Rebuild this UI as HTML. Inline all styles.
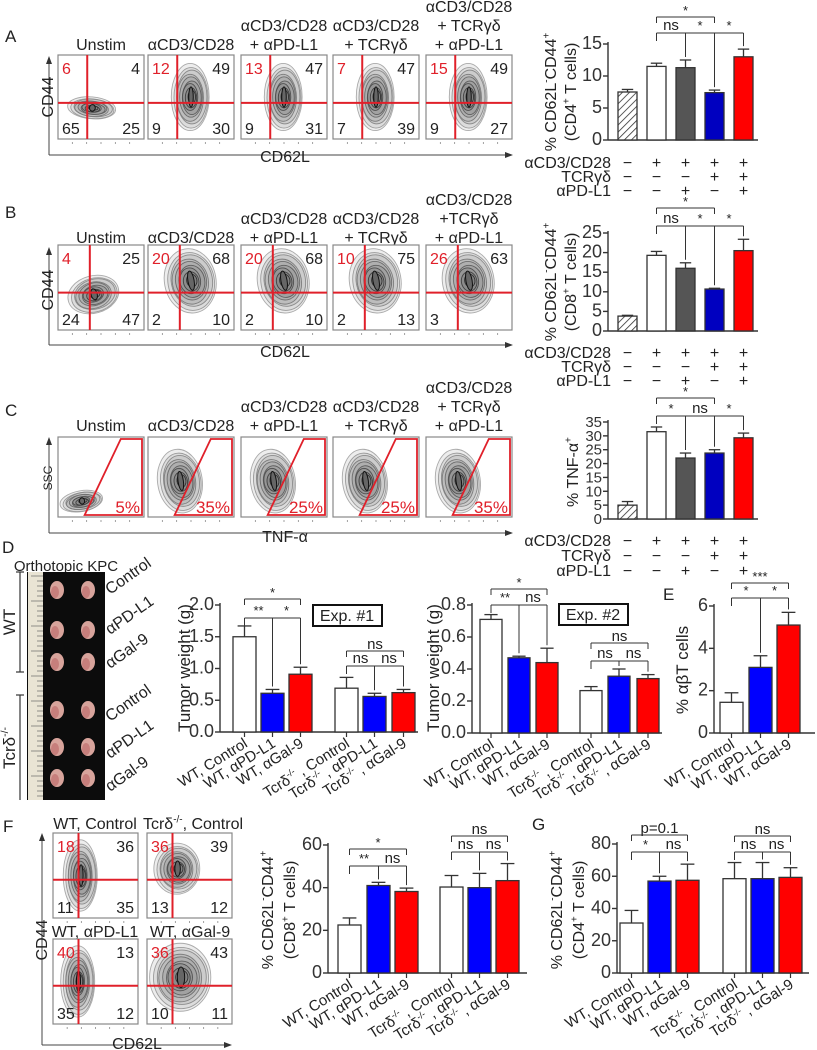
<!DOCTYPE html>
<html><head><meta charset="utf-8">
<style>
html,body{margin:0;padding:0;background:#fff;}
svg{display:block;font-family:"Liberation Sans",Arial,sans-serif;}
</style></head>
<body>
<svg id="fig" width="817" height="1050" viewBox="0 0 817 1050" xmlns="http://www.w3.org/2000/svg">
<defs>
<pattern id="hatch" patternUnits="userSpaceOnUse" width="5" height="5" patternTransform="rotate(45)">
<rect width="5" height="5" fill="#fff"/><line x1="0" y1="0" x2="0" y2="5" stroke="#333" stroke-width="1.6"/>
</pattern>
</defs>
</svg>
<script>
// ---------- DATA ----------
const condCategories = ['Unstim','aCD3/CD28','aCD3/CD28 + aPD-L1','aCD3/CD28 + TCRgd','aCD3/CD28 + TCRgd + aPD-L1'];
const aValues = [7.5, 11.5, 11.3, 7.4, 13];
const aErrors = [0.4, 0.5, 1.2, 0.4, 1.2];
const aTicks = [0, 5, 10, 15];
const bValues = [3.8, 19.3, 16, 10.7, 20.5];
const bErrors = [0.2, 1.0, 1.4, 0.2, 2.9];
const bTicks = [0, 5, 10, 15, 20, 25];
const cValues = [5, 31.5, 22, 23.8, 29.3];
const cErrors = [1.3, 1.7, 1.8, 1.2, 1.7];
const cTicks = [0, 5, 10, 15, 20, 25, 30, 35];
const signRowCD3 = ['−','+','+','+','+'];
const signRowTCR = ['−','−','−','+','+'];
const signRowPDL1 = ['−','−','+','−','+'];
const groupCategories = ['WT, Control','WT, αPD-L1','WT, αGal-9','Control','αPD-L1','αGal-9'];
const d1Values = [1.5, 0.61, 0.91, 0.69, 0.56, 0.62];
const d1Errors = [0.17, 0.06, 0.11, 0.17, 0.05, 0.05];
const d1Ticks = [0, 0.5, 1.0, 1.5, 2.0];
const d1TickLabels = ['0.0','0.5','1.0','1.5','2.0'];
const d2Values = [0.71, 0.47, 0.44, 0.265, 0.355, 0.34];
const d2Errors = [0.03, 0.01, 0.09, 0.025, 0.045, 0.025];
const d2Ticks = [0, 0.2, 0.4, 0.6, 0.8];
const d2TickLabels = ['0.0','0.2','0.4','0.6','0.8'];
const eValues = [1.45, 3.1, 5.1];
const eErrors = [0.45, 0.55, 0.6];
const eTicks = [0, 2, 4, 6];
const fValues = [22.5, 41, 38.2, 40.3, 40, 43.3];
const fErrors = [3.3, 1.5, 1.6, 5.4, 6.7, 8];
const fTicks = [0, 20, 40, 60];
const gValues = [31, 57, 57.5, 58.5, 58.5, 59.3];
const gErrors = [7.8, 3, 10, 10, 10, 6];
const gTicks = [0, 20, 40, 60, 80];
const flowA = [[6,4,65,25],[12,49,9,30],[13,47,9,31],[7,47,7,39],[15,49,9,27]];
const flowB = [[4,25,24,47],[20,68,2,10],[20,68,2,10],[10,75,2,13],[26,63,3,'']];
const flowC = ['5%','35%','25%','25%','35%'];
const flowF = [[18,36,11,35],[36,39,13,12],[40,13,35,12],[36,43,10,11]];

// ---------- HELPERS ----------
const NS='http://www.w3.org/2000/svg';
const svg=document.getElementById('fig');
function mk(tag, attrs, name, parent){
  const el=document.createElementNS(NS,tag);
  for(const k in attrs) el.setAttribute(k, attrs[k]);
  
  
  (parent||svg).appendChild(el);
  return el;
}
function txt(x,y,parts,opt,name,parent){
  opt=opt||{};
  const sz=opt.size||14;
  const a={x:x,y:y,'font-size':sz,fill:opt.fill||'#222','text-anchor':opt.anchor||'start'};
  if(opt.transform) a.transform=opt.transform;
  if(opt.style) a['font-style']=opt.style;
  const t=mk('text',a,name,parent);
  if(typeof parts==='string') parts=[[parts]];
  let prevSup=false;
  parts.forEach(p=>{
    const s=document.createElementNS(NS,'tspan');
    if(p[1]){ s.setAttribute('font-size',sz*0.62); s.setAttribute('dy',prevSup?0:-sz*0.4); prevSup=true; }
    else { if(prevSup) s.setAttribute('dy',sz*0.4); prevSup=false; }
    s.textContent=p[0];
    t.appendChild(s);
  });
  return t;
}
function line(x1,y1,x2,y2,stroke,w,name,parent){
  return mk('line',{x1:x1,y1:y1,x2:x2,y2:y2,stroke:stroke||'#333','stroke-width':w||1.2},name,parent);
}
function arrowH(x1,y,x2,name){ line(x1,y,x2-6,y,'#444',1,name); mk('polygon',{points:`${x2},${y} ${x2-8},${y-3} ${x2-8},${y+3}`,fill:'#333'},name+'-head'); }
function arrowV(x,y1,y2,name){ line(x,y1,x,y2+6,'#444',1,name); mk('polygon',{points:`${x},${y2} ${x-3},${y2+8} ${x+3},${y2+8}`,fill:'#333'},name+'-head'); }

function blob(g,cx,cy,rx,ry,rot){
  for(let i=0;i<9;i++){
    const f=1-i*0.1;
    const c=Math.round(170-i*15);
    mk('ellipse',{cx:cx+(i%3-1)*0.8,cy:cy+(i%2)*0.8,rx:rx*f,ry:ry*f,fill:'rgba(0,0,0,0.07)',stroke:`rgb(${c},${c},${c})`,'stroke-width':0.9,transform:`rotate(${rot||0} ${cx} ${cy})`},'contour-line',g);
  }
  mk('ellipse',{cx:cx,cy:cy,rx:Math.max(2,rx*0.12),ry:ry*0.3,fill:'#666',stroke:'#111','stroke-width':1,transform:`rotate(${rot||0} ${cx} ${cy})`},'contour-core',g);
}
function flowBox(x,y,w,h,vf,hf,nums,bl,name){
  const g=mk('g',{},name);
  mk('rect',{x:x,y:y,width:w,height:h,fill:'#fff',stroke:'#888','stroke-width':1.2},'plot-frame',g);
  blob(g,x+bl[0]*w,y+bl[1]*h,bl[2]*w,bl[3]*h,bl[4]||0);
  line(x+vf*w,y,x+vf*w,y+h,'#e0202a',2,'quadrant-vline',g);
  line(x,y+hf*h,x+w,y+hf*h,'#e0202a',2,'quadrant-hline',g);
  txt(x+4,y+19,String(nums[0]),{size:16,fill:'#e0202a'},'quadrant-ul-value',g);
  txt(x+w-4,y+19,String(nums[1]),{size:16,anchor:'end'},'quadrant-ur-value',g);
  txt(x+4,y+h-5,String(nums[2]),{size:16},'quadrant-ll-value',g);
  txt(x+w-4,y+h-5,String(nums[3]),{size:16,anchor:'end'},'quadrant-lr-value',g);
  for(let i=1;i<6;i++) line(x+i*w/6,y+h+3,x+i*w/6,y+h+5,'#888',0.8,'axis-tick',g);
}
function gateBox(x,y,w,h,pct,bl,name){
  const g=mk('g',{},name);
  mk('rect',{x:x,y:y,width:w,height:h,fill:'#fff',stroke:'#888','stroke-width':1.2},'plot-frame',g);
  blob(g,x+bl[0]*w,y+bl[1]*h,bl[2]*w,bl[3]*h,bl[4]||0);
  mk('polygon',{points:`${x+0.31*w},${y+h-2} ${x+0.73*w},${y+2} ${x+w-2},${y+2} ${x+w-2},${y+h-2}`,fill:'none',stroke:'#e0202a','stroke-width':1.8},'tnf-gate',g);
  txt(x+w-4,y+h-4,pct,{size:17,fill:'#e0202a',anchor:'end'},'gate-percent',g);
  for(let i=1;i<6;i++) line(x+i*w/6,y+h+3,x+i*w/6,y+h+5,'#888',0.8,'axis-tick',g);
}
function titleLines(cx,yBottom,lines,name){
  lines.forEach((l,i)=>txt(cx,yBottom-(lines.length-1-i)*19,l,{size:16,anchor:'middle'},name));
}

// Bar chart
function barChart(c){
  const g=mk('g',{},c.name);
  const sy=v=>c.y0-(v/c.vmax)*(c.y0-c.yTop);
  c.sy=sy;
  line(c.ax,c.yTop-2,c.ax,c.y0,'#333',1.4,'y-axis',g);
  line(c.ax,c.y0,c.axEnd,c.y0,'#333',1.4,'x-axis',g);
  c.ticks.forEach((t,i)=>{
    const y=sy(t);
    line(c.ax-5,y,c.ax,y,'#333',1.4,'y-tick',g);
    txt(c.ax-6,y+5,c.tickLabels?c.tickLabels[i]:String(t),{size:c.tickSize||18,anchor:'end',fill:'#333'},'y-tick-label',g);
  });
  c.cx=[];
  c.values.forEach((v,i)=>{
    const left=c.lefts[i];
    const cx=left+c.bw/2; c.cx.push(cx);
    const top=sy(v), et=sy(v+c.errors[i]);
    line(cx,top,cx,et,'#333',1.3,'error-bar',g);
    line(cx-c.bw*0.3,et,cx+c.bw*0.3,et,'#333',1.3,'error-cap',g);
    mk('rect',{x:left,y:top,width:c.bw,height:c.y0-top,fill:c.colors[i],stroke:'#333','stroke-width':1.3},'bar-'+i,g);
    if(c.xTick) line(cx,c.y0,cx,c.y0+5,'#333',1.2,'x-tick',g);
  });
  return c;
}
function errTop(c,i){return c.sy(c.values[i]+c.errors[i])-3;}
function bracketTop(c,i,j,y,label,name){
  const g=mk('g',{},name);
  line(c.cx[i],y+6,c.cx[i],y,'#333',1,'bracket-end',g);
  line(c.cx[i],y,c.cx[j],y,'#333',1,'bracket',g);
  line(c.cx[j],y,c.cx[j],y+6,'#333',1,'bracket-end',g);
  txt((c.cx[i]+c.cx[j])/2,y-2,label,{size:label==='*'||label==='**'||label==='***'?13:15,anchor:'middle'},'significance-label',g);
}
function bracketComb(c,idx,y,labels,name){
  const g=mk('g',{},name);
  line(c.cx[idx[0]],y,c.cx[idx[idx.length-1]],y,'#333',1,'bracket',g);
  idx.forEach((k,n)=>{
    line(c.cx[k],y,c.cx[k],n===0?y+8:errTop(c,k),'#333',1,'bracket-drop',g);
    if(n>0) txt((c.cx[idx[n-1]]+c.cx[k])/2,y-3,labels[n-1],{size:labels[n-1]==='ns'?15:13,anchor:'middle'},'significance-label',g);
  });
}
function signTable(c,ys,name){
  const g=mk('g',{},name);
  const rows=[['αCD3/CD28',signRowCD3],['TCRγδ',signRowTCR],['αPD-L1',signRowPDL1]];
  rows.forEach((r,ri)=>{
    txt(611,ys[ri]+6,r[0],{size:16,anchor:'end'},'treatment-row-label',g);
    r[1].forEach((s,i)=>txt(c.cx[i],ys[ri]+6,s,{size:16,anchor:'middle'},'treatment-sign',g));
  });
}
function xLabels(c,labels,name){
  const g=mk('g',{},name);
  c.cx.forEach((x,i)=>{
    const l=labels[i];
    const tr=`rotate(-32 ${x+4} ${c.y0+14})`;
    if(i<3 || labels.length===3) txt(x+4,c.y0+14,l,{size:15,anchor:'end',transform:tr},'x-tick-label',g);
    else txt(x+4,c.y0+14,[['Tcrδ'],['-/-',true],[' , '+l]],{size:15,anchor:'end',transform:tr},'x-tick-label',g);
  });
}

// ---------- PANEL LABELS ----------
txt(5,42,'A',{size:17},'panel-label-a');
txt(5,218,'B',{size:17},'panel-label-b');
txt(5,416,'C',{size:17},'panel-label-c');
txt(2,553,'D',{size:17},'panel-label-d');
txt(663,600,'E',{size:17},'panel-label-e');
txt(3,832,'F',{size:17},'panel-label-f');
txt(532,830,'G',{size:17},'panel-label-g');

// ---------- FLOW A/B/C ----------
const bx=[58,148,241,333,426], bwid=86;
const titles=[['Unstim'],['αCD3/CD28'],['αCD3/CD28','+ αPD-L1'],['αCD3/CD28','+ TCRγδ'],['αCD3/CD28','+ TCRγδ','+ αPD-L1']];
const titlesB=[['Unstim'],['αCD3/CD28'],['αCD3/CD28','+ αPD-L1'],['αCD3/CD28','+ TCRγδ'],['αCD3/CD28','+TCRγδ','+ αPD-L1']];
bx.forEach((x,i)=>{
  titleLines(x+bwid/2,50,titles[i],'flow-a-title');
  const bl = i===0 ? [0.4,0.63,0.28,0.13,5] : [0.5,0.5,0.22,0.4,0];
  flowBox(x,55,bwid,84,0.34,0.57,flowA[i],bl,'flow-plot-a-'+i);
});
arrowV(49,155,56,'flow-a-y-axis'); arrowH(49,155,513,'flow-a-x-axis');
txt(53,97,'CD44',{size:16,anchor:'middle',transform:'rotate(-90 53 97)'},'flow-a-y-title');
txt(285,162,'CD62L',{size:16,anchor:'middle'},'flow-a-x-title');
bx.forEach((x,i)=>{
  titleLines(x+bwid/2,243,titlesB[i],'flow-b-title');
  const bl = i===0 ? [0.42,0.58,0.3,0.22,-15] : [0.5,0.42,0.3,0.38,-10];
  flowBox(x,245,bwid,85,0.37,0.56,flowB[i],bl,'flow-plot-b-'+i);
});
arrowV(49,345,247,'flow-b-y-axis'); arrowH(49,345,513,'flow-b-x-axis');
txt(53,290,'CD44',{size:16,anchor:'middle',transform:'rotate(-90 53 290)'},'flow-b-y-title');
txt(285,357,'CD62L',{size:16,anchor:'middle'},'flow-b-x-title');
bx.forEach((x,i)=>{
  titleLines(x+bwid/2,431,titles[i],'flow-c-title');
  const bl = i===0 ? [0.28,0.8,0.25,0.13,-10] : [0.38,0.55,0.26,0.4,-8];
  gateBox(x,437,bwid,80,flowC[i],bl,'flow-plot-c-'+i);
});
arrowV(49,533,437,'flow-c-y-axis'); arrowH(49,533,513,'flow-c-x-axis');
txt(52,478,'SSC',{size:12,anchor:'middle',transform:'rotate(-90 52 478)'},'flow-c-y-title');
txt(285,542,'TNF-α',{size:16,anchor:'middle'},'flow-c-x-title');

// ---------- BAR CHARTS A/B/C ----------
const fiveColors=['url(#hatch)','#ffffff','#555555','#0000c0','#ff0000'];
const fiveLefts=[618,647,676,705,734];
const chA=barChart({name:'chart-a',ax:608,y0:140,yTop:44,vmax:15,axEnd:758,ticks:aTicks,values:aValues,errors:aErrors,lefts:fiveLefts,bw:19,colors:fiveColors});
bracketTop(chA,1,3,17,'*','bracket-a-top');
bracketComb(chA,[1,2,3,4],33,['ns','*','*'],'bracket-a');
txt(556,92,[['% CD62L'],['-',true],['CD44'],['+',true]],{size:16,anchor:'middle',transform:'rotate(-90 556 92)'},'chart-a-y-title');
txt(576,92,[['(CD4'],['+',true],[' T cells)']],{size:16,anchor:'middle',transform:'rotate(-90 576 92)'},'chart-a-y-title-2');
signTable(chA,[162,176,190],'sign-table-a');

const chB=barChart({name:'chart-b',ax:608,y0:331,yTop:233,vmax:25,axEnd:758,ticks:bTicks,values:bValues,errors:bErrors,lefts:fiveLefts,bw:19,colors:fiveColors});
bracketTop(chB,1,3,208,'*','bracket-b-top');
bracketComb(chB,[1,2,3,4],226,['ns','*','*'],'bracket-b');
txt(556,282,[['% CD62L'],['-',true],['CD44'],['+',true]],{size:16,anchor:'middle',transform:'rotate(-90 556 282)'},'chart-b-y-title');
txt(576,282,[['(CD8'],['+',true],[' T cells)']],{size:16,anchor:'middle',transform:'rotate(-90 576 282)'},'chart-b-y-title-2');
signTable(chB,[352,366,380],'sign-table-b');

const chC=barChart({name:'chart-c',ax:608,y0:519,yTop:422,vmax:35,axEnd:758,ticks:cTicks,values:cValues,errors:cErrors,lefts:fiveLefts,bw:19,colors:fiveColors,tickSize:15});
bracketTop(chC,1,3,398,'*','bracket-c-top');
bracketComb(chC,[1,2,3,4],416,['*','ns','*'],'bracket-c');
txt(578,472,[['% TNF-α'],['+',true]],{size:16,anchor:'middle',transform:'rotate(-90 578 472)'},'chart-c-y-title');
signTable(chC,[540,555,570],'sign-table-c');

// ---------- PANEL D PHOTO ----------
txt(66,571,'Orthotopic KPC',{size:15,anchor:'middle'},'photo-title');
mk('rect',{x:27,y:572,width:78,height:228,fill:'#0c0c0c'},'tumor-photo');
mk('rect',{x:28,y:572,width:15,height:228,fill:'#e9e4d4'},'photo-ruler');
for(let i=0;i<45;i++) line(37-(i%5===0?6:0),576+i*5,43,576+i*5,'#555',0.6,'ruler-tick');
[590,630,662,710,747,778].forEach((y,r)=>{
  [57,88].forEach(x=>{
    mk('ellipse',{cx:x,cy:y,rx:7,ry:9,fill:'#d8a49c'},'tumor');
    mk('ellipse',{cx:x-2,cy:y+2,rx:4,ry:6,fill:'#c77f7c'},'tumor-shade');
  });
});
line(20,572,20,672,'#333',1.2,'wt-bracket'); line(16,572,24,572,'#333',1.2,'wt-bracket-cap'); line(16,672,24,672,'#333',1.2,'wt-bracket-cap');
txt(15,622,'WT',{size:17,anchor:'middle',transform:'rotate(-90 15 622)'},'wt-label');
line(20,695,20,800,'#333',1.2,'ko-bracket'); line(16,695,24,695,'#333',1.2,'ko-bracket-cap');
txt(15,748,[['Tcrδ'],['-/-',true]],{size:17,anchor:'middle',transform:'rotate(-90 15 748)'},'ko-label');
[['Control',583],['αPD-L1',623],['αGal-9',657],['Control',710],['αPD-L1',747],['αGal-9',780]].forEach(p=>{
  txt(110,p[1]+12,p[0],{size:16,transform:`rotate(-35 110 ${p[1]+12})`},'photo-group-label');
});

// ---------- D CHARTS ----------
const sixColors=['#ffffff','#0000ff','#ff0000','#ffffff','#0000ff','#ff0000'];
const chD1=barChart({name:'chart-d1',ax:220,y0:732,yTop:605,vmax:2.0,axEnd:418,ticks:d1Ticks,tickLabels:d1TickLabels,values:d1Values,errors:d1Errors,lefts:[233,261,289,335,363,392],bw:23,colors:sixColors,xTick:true});
bracketTop(chD1,0,2,599,'*','bracket-d1-top');
bracketComb(chD1,[0,1,2],618,['**','*'],'bracket-d1');
bracketTop(chD1,3,5,651,'ns','bracket-d1-ko-top');
bracketComb(chD1,[3,4,5],666,['ns','ns'],'bracket-d1-ko');
mk('rect',{x:313,y:605,width:69,height:21,fill:'#fff',stroke:'#111','stroke-width':2},'exp1-box');
txt(347,621,'Exp. #1',{size:16,anchor:'middle'},'exp1-label');
txt(190,668,'Tumor weight (g)',{size:17,anchor:'middle',transform:'rotate(-90 190 668)'},'chart-d1-y-title');
xLabels(chD1,groupCategories,'chart-d1-x-labels');

const chD2=barChart({name:'chart-d2',ax:472,y0:733,yTop:605,vmax:0.8,axEnd:662,ticks:d2Ticks,tickLabels:d2TickLabels,values:d2Values,errors:d2Errors,lefts:[480,508,536,580,608,637],bw:22,colors:sixColors,xTick:true});
bracketTop(chD2,0,2,589,'*','bracket-d2-top');
bracketComb(chD2,[0,1,2],605,['**','ns'],'bracket-d2');
bracketTop(chD2,3,5,643,'ns','bracket-d2-ko-top');
bracketComb(chD2,[3,4,5],661,['ns','ns'],'bracket-d2-ko');
mk('rect',{x:559,y:604,width:69,height:21,fill:'#fff',stroke:'#111','stroke-width':2},'exp2-box');
txt(593,620,'Exp. #2',{size:16,anchor:'middle'},'exp2-label');
txt(439,668,'Tumor weight (g)',{size:17,anchor:'middle',transform:'rotate(-90 439 668)'},'chart-d2-y-title');
xLabels(chD2,groupCategories,'chart-d2-x-labels');

// ---------- E ----------
const chE=barChart({name:'chart-e',ax:714,y0:733,yTop:606,vmax:6,axEnd:815,ticks:eTicks,values:eValues,errors:eErrors,lefts:[720,749,777],bw:23,colors:['#ffffff','#0000ff','#ff0000'],xTick:true});
bracketTop(chE,0,2,583,'***','bracket-e-top');
bracketComb(chE,[0,1,2],598,['*','*'],'bracket-e');
txt(688,670,'% αβT cells',{size:17,anchor:'middle',transform:'rotate(-90 688 670)'},'chart-e-y-title');
xLabels(chE,groupCategories.slice(0,3),'chart-e-x-labels');

// ---------- F FLOW ----------
txt(95,829,'WT, Control',{size:16,anchor:'middle'},'flow-f-title');
txt(193,829,[['Tcrδ'],['-/-',true],[', Control']],{size:16,anchor:'middle'},'flow-f-title');
txt(95,937,'WT, αPD-L1',{size:16,anchor:'middle'},'flow-f-title');
txt(190,937,'WT, αGal-9',{size:16,anchor:'middle'},'flow-f-title');
const fBox=[[53,833],[147,833],[53,939],[147,939]];
const fBlob=[[0.33,0.5,0.2,0.42,0],[0.36,0.42,0.27,0.3,0],[0.3,0.5,0.2,0.42,0],[0.4,0.45,0.36,0.4,0]];
fBox.forEach((p,i)=>flowBox(p[0],p[1],85,85,0.3,0.55,flowF[i],fBlob[i],'flow-plot-f-'+i));
arrowV(42,1045,833,'flow-f-y-axis'); arrowH(42,1045,232,'flow-f-x-axis');
txt(47,940,'CD44',{size:16,anchor:'middle',transform:'rotate(-90 47 940)'},'flow-f-y-title');
txt(137,1049,'CD62L',{size:16,anchor:'middle'},'flow-f-x-title');

// ---------- F CHART ----------
const chF=barChart({name:'chart-f',ax:328,y0:973,yTop:845,vmax:60,axEnd:527,ticks:fTicks,values:fValues,errors:fErrors,lefts:[338,367,395,440,468,496],bw:23,colors:sixColors,xTick:true});
bracketTop(chF,0,2,849,'*','bracket-f-top');
bracketComb(chF,[0,1,2],866,['**','ns'],'bracket-f');
bracketTop(chF,3,5,836,'ns','bracket-f-ko-top');
bracketComb(chF,[3,4,5],852,['ns','ns'],'bracket-f-ko');
txt(273,910,[['% CD62L'],['-',true],['CD44'],['+',true]],{size:16,anchor:'middle',transform:'rotate(-90 273 910)'},'chart-f-y-title');
txt(295,910,[['(CD8'],['+',true],[' T cells)']],{size:16,anchor:'middle',transform:'rotate(-90 295 910)'},'chart-f-y-title-2');
xLabels(chF,groupCategories,'chart-f-x-labels');

// ---------- G CHART ----------
const chG=barChart({name:'chart-g',ax:617,y0:973,yTop:844,vmax:80,axEnd:809,ticks:gTicks,values:gValues,errors:gErrors,lefts:[620,648,676,723,751,779],bw:23,colors:sixColors,xTick:true});
bracketTop(chG,0,2,835,'p=0.1','bracket-g-top');
bracketComb(chG,[0,1,2],852,['*','ns'],'bracket-g');
bracketTop(chG,3,5,836,'ns','bracket-g-ko-top');
bracketComb(chG,[3,4,5],852,['ns','ns'],'bracket-g-ko');
txt(562,910,[['% CD62L'],['-',true],['CD44'],['+',true]],{size:16,anchor:'middle',transform:'rotate(-90 562 910)'},'chart-g-y-title');
txt(584,910,[['(CD4'],['+',true],[' T cells)']],{size:16,anchor:'middle',transform:'rotate(-90 584 910)'},'chart-g-y-title-2');
xLabels(chG,groupCategories,'chart-g-x-labels');
</script>
</body></html>
